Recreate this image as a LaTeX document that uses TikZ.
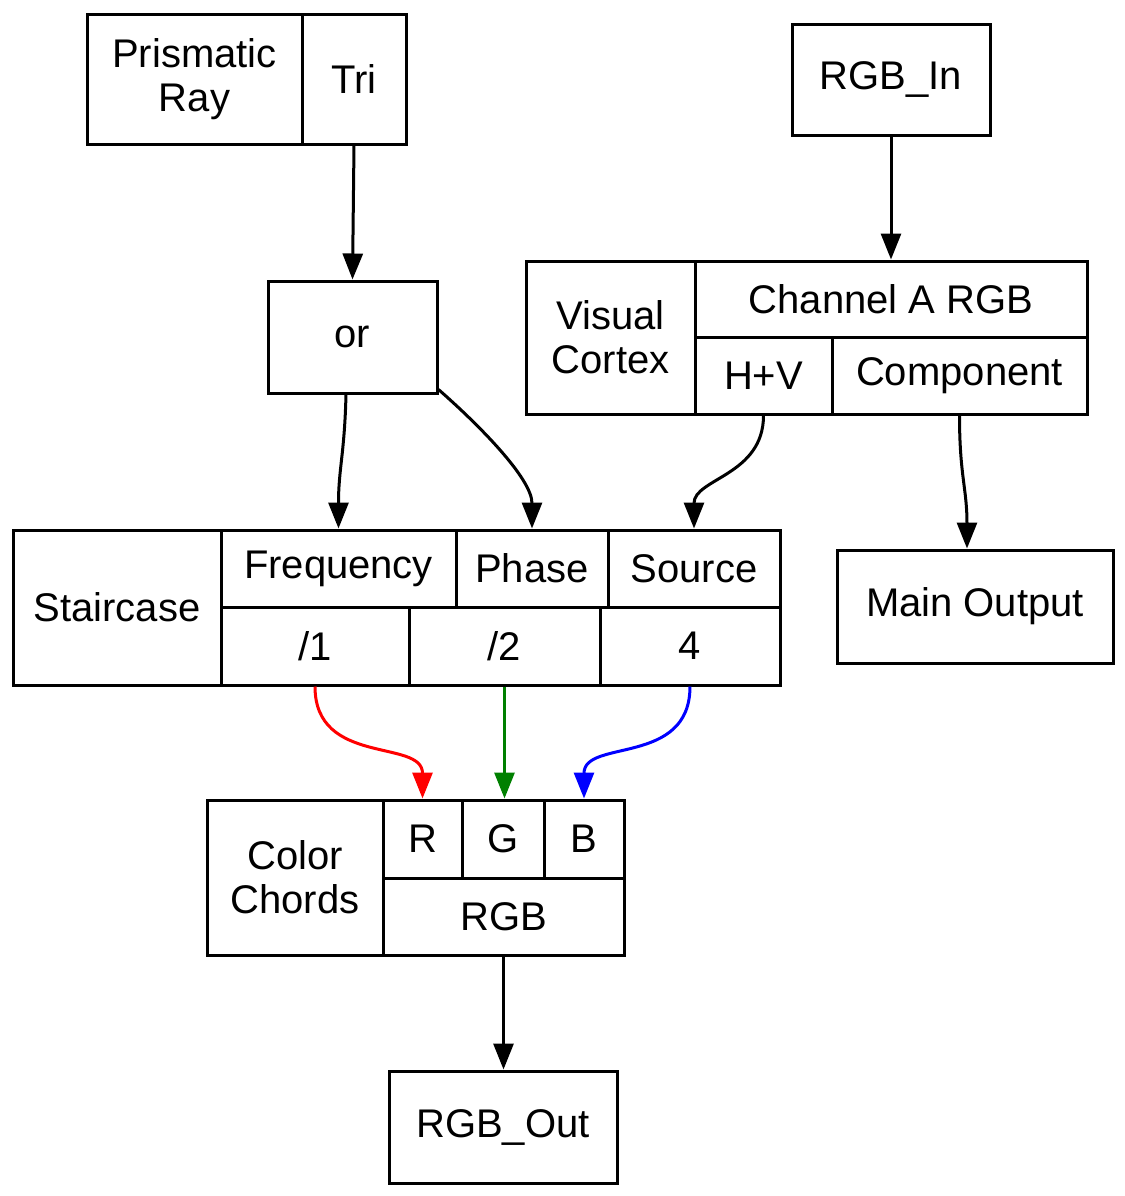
\documentclass[tikz,border=0pt]{standalone}
\usepackage{fontspec}
\setmainfont{Liberation Sans}
\usetikzlibrary{arrows.meta}
\newcommand{\fld}[6]{%
  \pgfmathsetmacro{\fw}{(#4-#2)*0.5}\pgfmathsetmacro{\fh}{(#5-#3)*0.5}%
  \node[fld,minimum width=\fw pt,minimum height=\fh pt] (#1) at ({(#2+#4)/2},{(#3+#5)/2}) {#6};}
\begin{document}
\begin{tikzpicture}[x=0.5pt,y=-0.5pt,
  fld/.style={draw,line width=1.5pt,inner sep=0pt,align=center,font=\fontsize{20}{22}\selectfont},
  arr/.style={line width=1.5pt,-{Triangle[length=13pt,width=10pt]}}]
\useasboundingbox (0,0) rectangle (1125,1196);
\fld{pr}{87}{14}{302}{144}{Prismatic\\Ray}
\fld{tri}{302}{14}{406}{144}{Tri}
\fld{rgbin}{792}{24}{990}{135}{RGB\_In}
\fld{orn}{268}{281}{437}{393}{or}
\fld{vc}{526}{261}{695}{414}{Visual\\Cortex}
\fld{cha}{695}{261}{1087}{337}{Channel A RGB}
\fld{hv}{695}{337}{832}{414}{H+V}
\fld{comp}{832}{337}{1087}{414}{Component}
\fld{stair}{13}{530}{221}{685}{Staircase}
\fld{freq}{221}{530}{456}{607}{Frequency}
\fld{phase}{456}{530}{608}{607}{Phase}
\fld{src}{608}{530}{780}{607}{Source}
\fld{d1}{221}{607}{409}{685}{/1}
\fld{d2}{409}{607}{600}{685}{/2}
\fld{d4}{600}{607}{780}{685}{4}
\fld{mo}{837}{550}{1113}{663}{Main Output}
\fld{cc}{207}{800}{383}{955}{Color\\Chords}
\fld{r}{383}{800}{462}{878}{R}
\fld{g}{462}{800}{544}{878}{G}
\fld{b}{544}{800}{624}{878}{B}
\fld{rgb}{383}{878}{624}{955}{RGB}
\fld{rgbout}{389}{1071}{617}{1183}{RGB\_Out}
\draw[arr] (tri.south) -- (orn.north);
\draw[arr] (rgbin.south) -- (rgbin.south |- cha.north);
\draw[arr] ([xshift=-3.25pt]orn.south) .. controls ([xshift=-4pt,yshift=-30pt]orn.south) and ([yshift=30pt]freq.north) .. (freq.north);
\draw[arr] ([yshift=2.5pt]orn.south east) .. controls ([xshift=20pt,yshift=-15pt]orn.south east) and ([yshift=25pt]phase.north) .. (phase.north);
\draw[arr] (hv.south) .. controls ([yshift=-30pt]hv.south) and ([yshift=25pt]src.north) .. (src.north);
\draw[arr] (comp.south) .. controls ([yshift=-30pt]comp.south) and ([xshift=-4pt,yshift=30pt]mo.north) .. ([xshift=-4pt]mo.north);
\draw[arr,red] (d1.south) .. controls ([yshift=-40pt]d1.south) and ([yshift=30pt]r.north) .. (r.north);
\draw[arr,green!50!black] (d2.south) -- (d2.south |- g.north);
\draw[arr,blue] (d4.south) .. controls ([yshift=-40pt]d4.south) and ([yshift=30pt]b.north) .. (b.north);
\draw[arr] (rgb.south) -- (rgb.south |- rgbout.north);
\end{tikzpicture}
\end{document}
